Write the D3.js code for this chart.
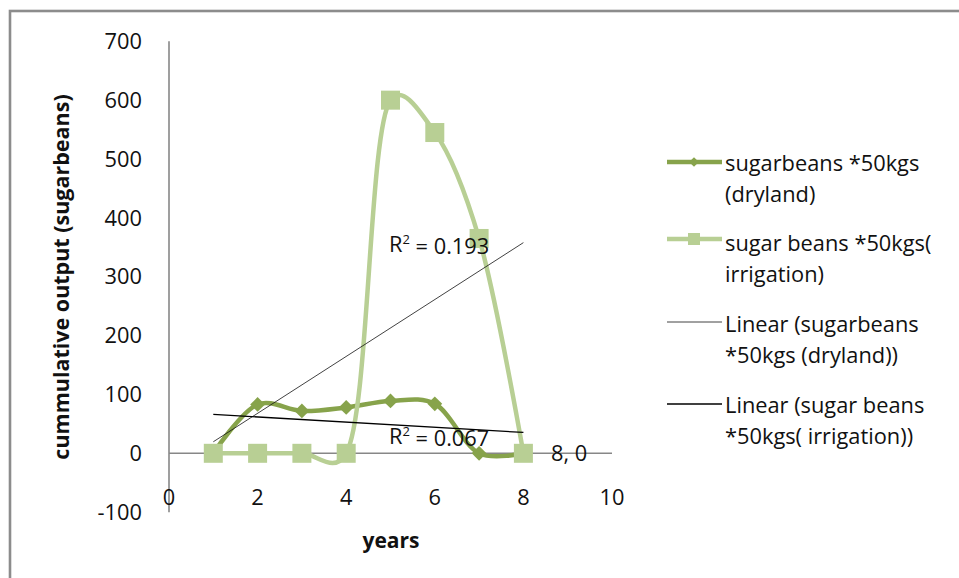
<!DOCTYPE html>
<html><head><meta charset="utf-8">
<script src="https://cdn.jsdelivr.net/npm/d3@7"></script>
<style>body{margin:0;background:#fff;} text{font-family:"Open Sans",sans-serif;}</style>
</head><body><svg id="c" width="959" height="578"></svg>
<script>
const years = [1,2,3,4,5,6,7,8];
const dryland = [0,83,72,78,89,84,0,0];
const irrigation = [0,0,0,0,600,545,365,0];
const seriesNames = ["sugarbeans *50kgs\n(dryland)","sugar beans *50kgs(\nirrigation)","Linear (sugarbeans\n*50kgs (dryland))","Linear (sugar beans\n*50kgs( irrigation))"];
const r2Labels = ["R² = 0.067","R² = 0.193"];
const pointLabel = "8, 0";
const xTicks = [0,2,4,6,8,10];
const yTicks = [-100,0,100,200,300,400,500,600,700];

const svg = d3.select("#c");
const x = d3.scaleLinear().domain([0,10]).range([169,612]);
const y = d3.scaleLinear().domain([0,700]).range([453.3,41.3]);
const darkG = "#87a34b", lightG = "#b8cf94", axisC = "#878787";

// frame
svg.append("rect").attr("x",10).attr("y",11).attr("width",1200).attr("height",900)
  .attr("fill","none").attr("stroke","#8c8c8c").attr("stroke-width",2.6);

// axes
svg.append("line").attr("x1",x(0)).attr("x2",x(0)).attr("y1",y(700)).attr("y2",y(-100)).attr("stroke",axisC).attr("stroke-width",1.6);
svg.append("line").attr("x1",x(0)).attr("x2",x(10)).attr("y1",y(0)).attr("y2",y(0)).attr("stroke",axisC).attr("stroke-width",1.6);

const fs = 21.8;
svg.append("g").selectAll("text").data(yTicks).join("text")
  .attr("x",142).attr("y",d=>y(d)).attr("dy","0.35em").attr("text-anchor","end")
  .attr("font-size",fs).attr("fill","#111").text(d=>d);
svg.append("g").selectAll("text").data(xTicks).join("text")
  .attr("x",d=>x(d)).attr("y",497).attr("dy","0.35em").attr("text-anchor","middle")
  .attr("font-size",fs).attr("fill","#111").text(d=>d);

// axis titles
svg.append("text").attr("transform","translate(61,277) rotate(-90)").attr("text-anchor","middle")
  .attr("dy","0.35em").attr("font-size",21.5).attr("font-weight","bold").attr("fill","#111").text("cummulative output (sugarbeans)");
svg.append("text").attr("x",391).attr("y",541).attr("text-anchor","middle").attr("dy","0.35em")
  .attr("font-size",21).attr("font-weight","bold").attr("fill","#111").text("years");

const curve = d3.curveCatmullRom.alpha(0.3);
const line = d3.line().x(d=>x(d[0])).y(d=>y(d[1])).curve(curve);
const dData = years.map((v,i)=>[v,dryland[i]]);
const iData = years.map((v,i)=>[v,irrigation[i]]);

// dryland
svg.append("path").attr("d",line(dData)).attr("fill","none").attr("stroke",darkG).attr("stroke-width",4.5);
const diamond = d3.symbol().type(d3.symbolDiamond2).size(140);
svg.append("g").selectAll("path").data(dData).join("path")
  .attr("transform",d=>`translate(${x(d[0])},${y(d[1])})`).attr("d",diamond).attr("fill",darkG);
// irrigation
svg.append("path").attr("d",line(iData)).attr("fill","none").attr("stroke",lightG).attr("stroke-width",4.5);
svg.append("g").selectAll("rect").data(iData).join("rect")
  .attr("x",d=>x(d[0])-9.5).attr("y",d=>y(d[1])-9.5).attr("width",19).attr("height",19).attr("fill",lightG);

// linear trends
function fit(xs,ys){const n=xs.length,mx=d3.mean(xs),my=d3.mean(ys);
  const b=d3.sum(xs.map((v,i)=>(v-mx)*(ys[i]-my)))/d3.sum(xs.map(v=>(v-mx)**2));return [b,my-b*mx];}
const fd = fit(years,dryland), fi = fit(years,irrigation);
const x0 = years[0], x1 = years[years.length-1];
svg.append("line").attr("x1",x(x0)).attr("x2",x(x1)).attr("y1",y(fi[1]+fi[0]*x0)).attr("y2",y(fi[1]+fi[0]*x1))
  .attr("stroke","#111").attr("stroke-width",0.8);
svg.append("line").attr("x1",x(x0)).attr("x2",x(x1)).attr("y1",y(fd[1]+fd[0]*x0)).attr("y2",y(fd[1]+fd[0]*x1))
  .attr("stroke","#000").attr("stroke-width",1.3);

// labels
function r2(t,xx,yy){const tx=svg.append("text").attr("x",xx).attr("y",yy).attr("dy","0.35em").attr("font-size",fs).attr("fill","#111");
  tx.append("tspan").text("R");tx.append("tspan").attr("font-size",13).attr("dy","-0.55em").text("2");
  tx.append("tspan").attr("dy","0.45em").text(t.slice(2));}
r2(r2Labels[1],389,244);
r2(r2Labels[0],389,436);
svg.append("text").attr("x",551).attr("y",y(0)).attr("dy","0.35em").attr("font-size",fs).attr("fill","#111").text(pointLabel);

// legend
const lg = svg.append("g");
const items = [{y:163,t:0},{y:243,t:1},{y:324,t:2},{y:405,t:3}];
items.forEach((it,i)=>{
  const lines = seriesNames[i].split("\n");
  lines.forEach((l,j)=>lg.append("text").attr("x",725).attr("y",it.y+j*31.5).attr("dy","0.35em").attr("font-size",fs).attr("fill","#111").text(l));
});
const legDiamond = d3.symbol().type(d3.symbolDiamond2).size(60);
lg.append("line").attr("x1",667).attr("x2",722).attr("y1",162).attr("y2",162).attr("stroke",darkG).attr("stroke-width",4.5);
lg.append("path").attr("transform","translate(694,162)").attr("d",legDiamond).attr("fill",darkG);
lg.append("line").attr("x1",667).attr("x2",722).attr("y1",239).attr("y2",239).attr("stroke",lightG).attr("stroke-width",4.5);
lg.append("rect").attr("x",688).attr("y",233).attr("width",12).attr("height",12).attr("fill",lightG);
lg.append("line").attr("x1",667).attr("x2",722).attr("y1",322).attr("y2",322).attr("stroke","#111").attr("stroke-width",0.8);
lg.append("line").attr("x1",667).attr("x2",722).attr("y1",404).attr("y2",404).attr("stroke","#000").attr("stroke-width",1.5);
</script></body></html>
